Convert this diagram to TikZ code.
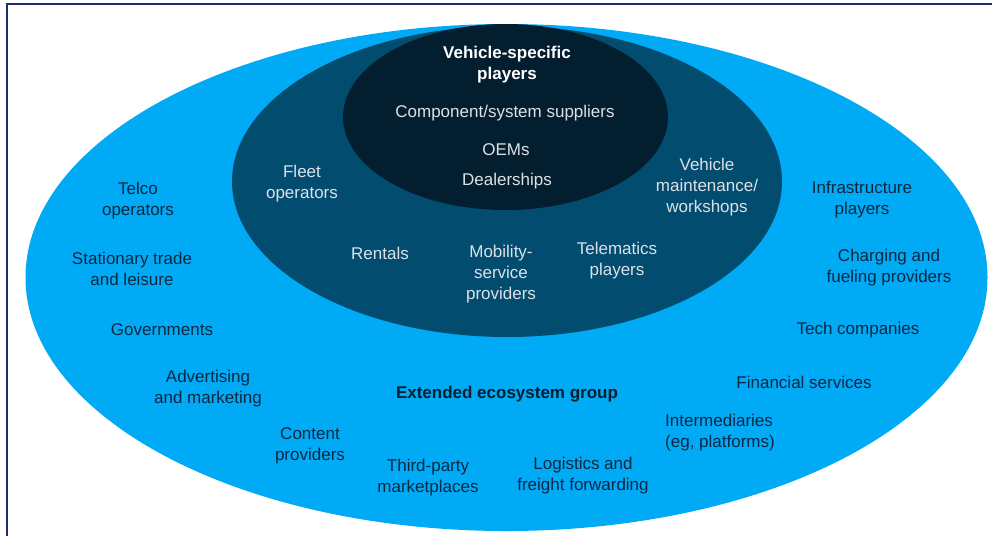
\documentclass[tikz,border=0pt]{standalone}
\usepackage{fontspec}
\setmainfont{Liberation Sans}
\definecolor{outerblue}{HTML}{00AAF5}
\definecolor{midblue}{HTML}{024C70}
\definecolor{coreblue}{HTML}{031E2F}
\definecolor{darktext}{HTML}{0A2843}
\definecolor{lighttext}{HTML}{DCE1E6}
\definecolor{framecol}{HTML}{1C2F6B}
\begin{document}
\begin{tikzpicture}[
        x=1pt, y=-1pt,
        txt/.style={align=center, font=\fontsize{17}{21}\selectfont, inner sep=0pt, yshift=-2.5pt},
        outer/.style={txt, text=darktext},
        inner/.style={txt, text=lighttext},
        heading/.style={txt, font=\fontsize{17}{21}\selectfont\bfseries}
    ]
    \useasboundingbox (0,0) rectangle (992,536);

    % Frame
    \draw[framecol, line width=1.4pt] (7,536) -- (7,4) -- (992,4);

    % Define rings
    \fill[outerblue] (506.5,277.5) ellipse [x radius=481pt, y radius=253.5pt];
    \fill[midblue] (507,181.5) ellipse [x radius=275pt, y radius=155.5pt];
    \fill[coreblue] (505.5,117) ellipse [x radius=162.5pt, y radius=93pt];

    % Vehicle-specific players
    \node[heading, text=white] (core) at (507,62) {Vehicle-specific\\players};
    \node[inner] (suppliers) at (505,111) {Component/system suppliers};
    \node[inner] (oems) at (506,147) {OEMs};
    \node[inner] (dealers) at (507,179) {Dealerships};

    % Middle ring
    \node[inner] (fleet) at (302,181) {Fleet\\operators};
    \node[inner] (workshops) at (707,185) {Vehicle\\maintenance/\\workshops};
    \node[inner] (rentals) at (380,251) {Rentals};
    \node[inner] (mobility) at (501,272) {Mobility-\\service\\providers};
    \node[inner] (telematics) at (617,258) {Telematics\\players};

    % Extended ecosystem
    \node[heading, text=coreblue] (extended) at (507,392) {Extended ecosystem group};
    \node[outer] (telco) at (138,198) {Telco\\operators};
    \node[outer] (stationary) at (132,266) {Stationary trade\\and leisure};
    \node[outer] (gov) at (162,327) {Governments};
    \node[outer] (ads) at (208,386) {Advertising\\and marketing};
    \node[outer] (content) at (310,443) {Content\\providers};
    \node[outer] (marketplaces) at (428,475) {Third-party\\marketplaces};
    \node[outer] (logistics) at (583,473) {Logistics and\\freight forwarding};
    \node[outer, align=left] (intermediaries) at (720,430) {Intermediaries\\(eg, platforms)};
    \node[outer] (financial) at (804,380) {Financial services};
    \node[outer] (tech) at (858,328) {Tech companies};
    \node[outer] (charging) at (889,265) {Charging and\\fueling providers};
    \node[outer] (infra) at (862,197) {Infrastructure\\players};

\end{tikzpicture}
\end{document}
